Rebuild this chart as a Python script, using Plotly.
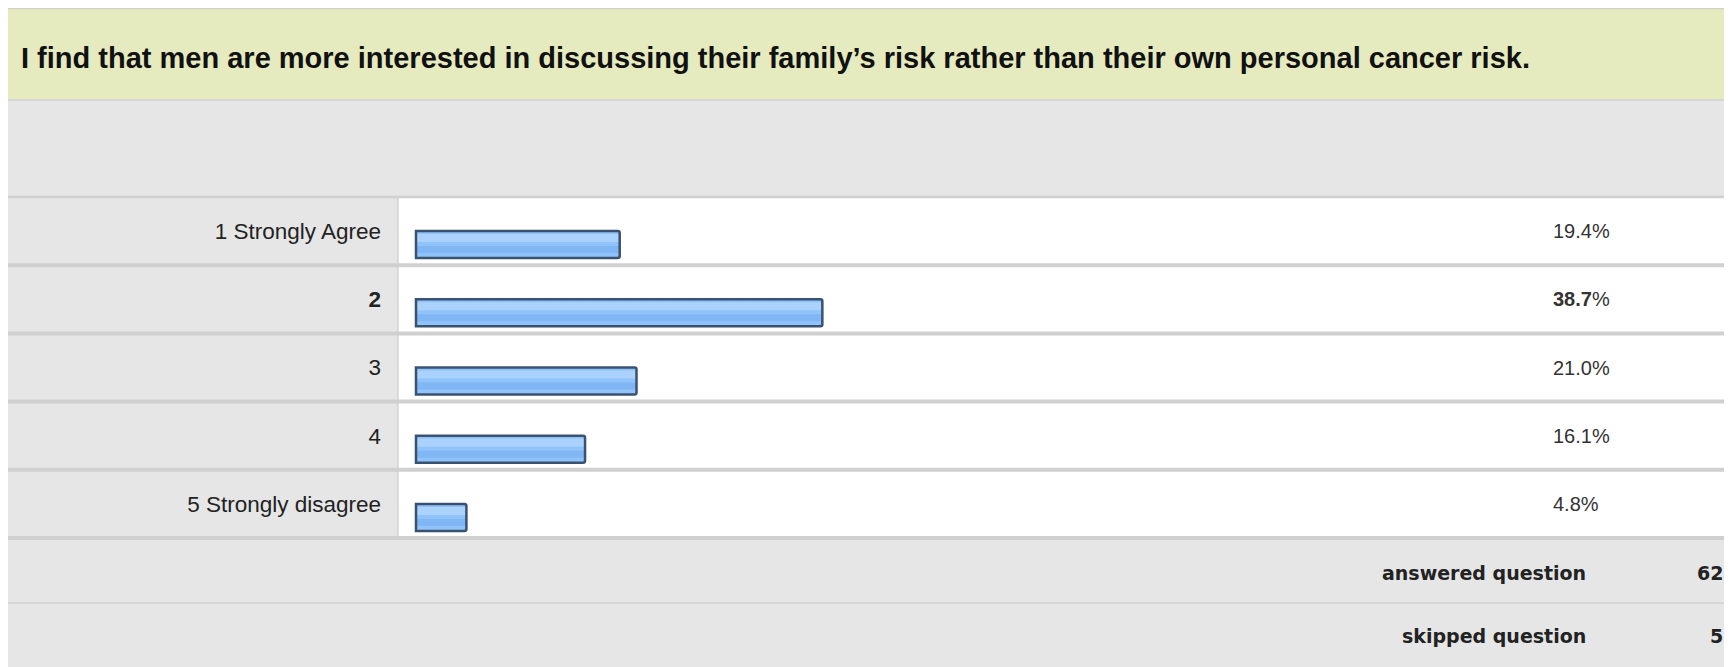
import plotly.graph_objects as go

# ---------------- data ----------------
title_text = "I find that men are more interested in discussing their family\u2019s risk rather than their own personal cancer risk."
categories = ["1 Strongly Agree", "<b>2</b>", "3", "4", "5 Strongly disagree"]
percents = [19.4, 38.7, 21.0, 16.1, 4.8]
percent_labels = ["19.4%", "<b>38.7</b>%", "21.0%", "16.1%", "4.8%"]
summary_labels = ["answered question", "skipped question"]
summary_values = ["62", "5"]

# ---------------- layout constants (page pixels) ----------------
PAGE_W, PAGE_H = 1732, 667
OX, OY = 8, 8                     # default body margin of the html page
W, H = PAGE_W - OX, PAGE_H - OY   # figure size
HEAD_TOP, HEAD_BOT = 8, 99
ROWS_TOP, ROWS_BOT = 197, 538
DIV_X = 398
ZERO_X = 416          # page pixel of 0%
PX_PER_PCT = 10.5
PCT_TEXT_X = 1551
SUM_SPLIT = 603

def px(x):
    return (x - OX) / W

def py(y):
    return 1 - (y - OY) / H

n = len(categories)
row_h = (ROWS_BOT - ROWS_TOP) / n

GREEN = "#e5eabf"
GRAY = "#e6e6e6"
SEP = "#d0d0d0"

fig = go.Figure()

bar_w = 27 / row_h
# base fill
fig.add_trace(go.Bar(
    x=percents, y=categories, orientation="h",
    width=bar_w, offset=0.0,
    marker=dict(color="#90c3f9", line=dict(width=0)),
    hoverinfo="skip", showlegend=False,
))
# highlight band (upper part)
fig.add_trace(go.Bar(
    x=percents, y=categories, orientation="h",
    width=8 / row_h, offset=3 / row_h,
    marker=dict(color="#aad2fd", line=dict(width=0)),
    hoverinfo="skip", showlegend=False,
))
# darker band (lower middle)
fig.add_trace(go.Bar(
    x=percents, y=categories, orientation="h",
    width=7 / row_h, offset=15 / row_h,
    marker=dict(color="#7fb6f3", line=dict(width=0)),
    hoverinfo="skip", showlegend=False,
))
# border
fig.add_trace(go.Bar(
    x=percents, y=categories, orientation="h",
    width=bar_w, offset=0.0,
    marker=dict(color="rgba(0,0,0,0)", line=dict(width=2.5, color="#3b5170"),
                cornerradius=2),
    hoverinfo="skip", showlegend=False,
))

shapes = []
# green header
shapes.append(dict(type="rect", xref="paper", yref="paper",
                   x0=0, x1=1, y0=py(HEAD_BOT), y1=1,
                   fillcolor=GREEN, line=dict(width=0), layer="below"))
shapes.append(dict(type="line", xref="paper", yref="paper",
                   x0=0, x1=1, y0=py(HEAD_TOP + 0.5), y1=py(HEAD_TOP + 0.5),
                   line=dict(color="#cfd2c0", width=1.5), layer="below"))
# gray band under header
shapes.append(dict(type="rect", xref="paper", yref="paper",
                   x0=0, x1=1, y0=py(ROWS_TOP), y1=py(HEAD_BOT),
                   fillcolor=GRAY, line=dict(width=0), layer="below"))
shapes.append(dict(type="line", xref="paper", yref="paper",
                   x0=0, x1=1, y0=py(HEAD_BOT + 1), y1=py(HEAD_BOT + 1),
                   line=dict(color="#d6d6d6", width=2), layer="below"))
# label column
shapes.append(dict(type="rect", xref="paper", yref="paper",
                   x0=0, x1=px(DIV_X), y0=py(ROWS_BOT), y1=py(ROWS_TOP),
                   fillcolor=GRAY, line=dict(width=0), layer="below"))
shapes.append(dict(type="line", xref="paper", yref="paper",
                   x0=px(DIV_X), x1=px(DIV_X), y0=py(ROWS_BOT), y1=py(ROWS_TOP),
                   line=dict(color="#c4c4c4", width=1), layer="below"))
# summary area
shapes.append(dict(type="rect", xref="paper", yref="paper",
                   x0=0, x1=1, y0=0, y1=py(ROWS_BOT),
                   fillcolor=GRAY, line=dict(width=0), layer="below"))
shapes.append(dict(type="line", xref="paper", yref="paper",
                   x0=0, x1=1, y0=py(SUM_SPLIT), y1=py(SUM_SPLIT),
                   line=dict(color=SEP, width=1.5), layer="below"))
# row separators
shapes.append(dict(type="line", xref="paper", yref="paper",
                   x0=0, x1=1, y0=py(ROWS_TOP), y1=py(ROWS_TOP),
                   line=dict(color=SEP, width=2.5), layer="above"))
for i in range(1, n + 1):
    yy = ROWS_TOP + i * row_h
    shapes.append(dict(type="line", xref="paper", yref="paper",
                       x0=0, x1=1, y0=py(yy), y1=py(yy),
                       line=dict(color=SEP, width=4), layer="above"))

annotations = []
annotations.append(dict(text="<b>" + title_text + "</b>", xref="paper", yref="paper",
                        x=px(19), y=py(57.5), xanchor="left", yanchor="middle",
                        showarrow=False,
                        font=dict(family="Liberation Sans", size=29, color="#111111")))
for i, lab in enumerate(percent_labels):
    annotations.append(dict(text=lab, xref="paper", yref="y",
                            x=px(PCT_TEXT_X), y=i, xanchor="left", yanchor="middle",
                            showarrow=False,
                            font=dict(family="Liberation Sans", size=20, color="#333333")))
sum_y = [573, 636]
for lab, val, yy in zip(summary_labels, summary_values, sum_y):
    annotations.append(dict(text="<b>" + lab + "</b>", xref="paper", yref="paper",
                            x=px(1588), y=py(yy), xanchor="right", yanchor="middle",
                            showarrow=False,
                            font=dict(family="DejaVu Sans", size=19, color="#222222")))
    annotations.append(dict(text="<b>" + val + "</b>", xref="paper", yref="paper",
                            x=px(1725), y=py(yy), xanchor="right", yanchor="middle",
                            showarrow=False,
                            font=dict(family="DejaVu Sans", size=19, color="#222222")))

fig.update_layout(
    width=W, height=H,
    margin=dict(l=0, r=0, t=0, b=0),
    paper_bgcolor="white", plot_bgcolor="white",
    barmode="overlay",
    showlegend=False,
    shapes=shapes,
    annotations=annotations,
    xaxis=dict(domain=[px(DIV_X), 1],
               range=[-(ZERO_X - DIV_X) / PX_PER_PCT, (PAGE_W - ZERO_X) / PX_PER_PCT],
               visible=False, fixedrange=True),
    yaxis=dict(domain=[py(ROWS_BOT), py(ROWS_TOP)],
               type="category", categoryorder="array", categoryarray=categories,
               range=[n - 0.5, -0.5],
               showgrid=False, zeroline=False, showline=False, ticks="",
               ticklabelstandoff=16,
               tickfont=dict(family="Liberation Sans", size=22.5, color="#222222"),
               fixedrange=True),
)

fig.write_html("out.html")
